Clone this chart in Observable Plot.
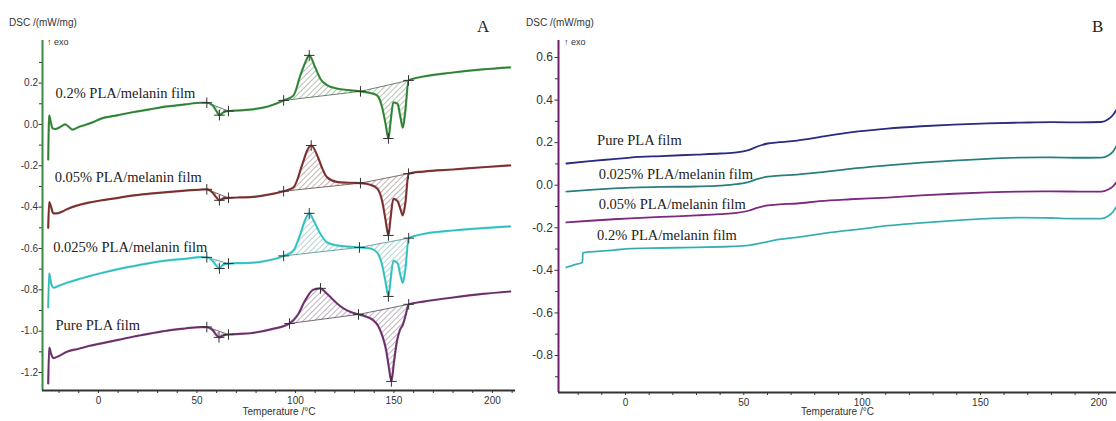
<!DOCTYPE html>
<html><head><meta charset="utf-8">
<script src="https://cdn.jsdelivr.net/npm/d3@7"></script>
<script src="https://cdn.jsdelivr.net/npm/@observablehq/plot@0.6"></script>
<style>
body{margin:0;background:#fff;}
#wrap{position:relative;width:1116px;height:421px;overflow:hidden;background:#fff;font-family:"Liberation Sans",Arial,sans-serif;}
#wrap svg{position:absolute;top:0;}
.lab{position:absolute;color:#333;white-space:nowrap;line-height:1;}
.pl{position:absolute;color:#222;font-family:"Liberation Serif","Times New Roman",serif;font-size:17px;line-height:1;}
</style></head><body>
<div id="wrap">
  <div class="lab" style="left:9px;top:18px;font-size:10px">DSC /(mW/mg)</div>
  <div class="lab" style="left:47px;top:38px;font-size:9px">↑ exo</div>
  <div class="pl" style="left:477px;top:18px">A</div>
  <div class="lab" style="left:526px;top:18px;font-size:10px">DSC /(mW/mg)</div>
  <div class="lab" style="left:564px;top:38px;font-size:9px">↑ exo</div>
  <div class="pl" style="left:1092px;top:18px">B</div>
</div>
<script>
// ---------- axis ticks ----------
const xTicksMajor = [0, 50, 100, 150, 200];
const xTicksMinorA = [-20,-10,10,20,30,40,60,70,80,90,110,120,130,140,160,170,180,190,210];
const xTicksMinorB = [-20,-10,10,20,30,40,60,70,80,90,110,120,130,140,160,170,180,190];
const yTicksMajorA = [0.2, 0, -0.2, -0.4, -0.6, -0.8, -1.0, -1.2];
const yTicksMinorA = [0.3, 0.1, -0.1, -0.3, -0.5, -0.7, -0.9, -1.1];
const yTicksMajorB = [0.6, 0.4, 0.2, 0, -0.2, -0.4, -0.6, -0.8];
const yTicksMinorB = [0.5, 0.3, 0.1, -0.1, -0.3, -0.5, -0.7, -0.9];
const xLabel = "Temperature /°C";

// ---------- Panel A data ----------
const namesA = ["0.2% PLA/melanin film", "0.05% PLA/melanin film", "0.025% PLA/melanin film", "Pure PLA film"];

const tA_02 = [-25.5,-25,-24.4,-23.2,-21.8,-19,-16.8,-15,-13.2,-10,-7.6,-3,1,10,18,26,35,44,52,55,58,60,61.4,63,66,72,77,86,94,99,102.5,105,107,110,112.7,116,121,127,133,138,141.5,144,145.7,147.2,148.2,149.7,151.8,153.3,154.5,155.8,157.4,165,179,195,209];
const vA_02 = [-0.17,0.044,0.02,-0.02,-0.022,-0.01,0.0,-0.012,-0.025,-0.012,-0.005,0.01,0.027,0.045,0.06,0.073,0.087,0.097,0.105,0.105,0.092,0.063,0.045,0.056,0.065,0.068,0.072,0.087,0.116,0.14,0.237,0.30,0.334,0.276,0.22,0.19,0.174,0.166,0.16,0.152,0.14,0.083,0.005,-0.068,0.005,0.107,0.10,0.035,-0.016,0.068,0.213,0.232,0.25,0.266,0.276];
const mA_02 = [55, 61.4, 66, 94, 107, 133, 147.2, 157.4];

const tA_005 = [-25.5,-25,-24,-23,-21,-18,-16,-10,-5,1,10,18,26,35,44,52,55,58,60,61.4,63,66,72,77,86,94,99,103.6,106,108,111.5,113.5,116,121,127,133,138,141.5,144,145.7,147.2,148.2,149.7,151.8,153.3,154.5,155.8,157.4,165,180,195,209];
const vA_005 = [-0.50,-0.376,-0.40,-0.43,-0.43,-0.42,-0.41,-0.39,-0.378,-0.368,-0.355,-0.343,-0.335,-0.327,-0.32,-0.315,-0.314,-0.33,-0.355,-0.367,-0.36,-0.355,-0.353,-0.352,-0.34,-0.323,-0.305,-0.19,-0.125,-0.102,-0.16,-0.21,-0.255,-0.278,-0.282,-0.284,-0.292,-0.31,-0.37,-0.46,-0.537,-0.46,-0.36,-0.37,-0.41,-0.44,-0.38,-0.238,-0.228,-0.218,-0.207,-0.198];
const mA_005 = [55, 61.4, 66, 94, 108, 133, 147.2, 157.4];

const tA_0025 = [-25.5,-25,-24,-22.7,-20,-16,-10,-5,1,10,18,26,35,44,52,55,58,60,61.4,63,66,72,77,86,94,99,102.5,105,107,109.5,112.7,116,121,127,132.5,138,141.5,144,145.7,147.2,148.2,149.7,151.8,153.3,154.5,155.8,157.5,165,180,195,209];
const vA_0025 = [-0.885,-0.72,-0.77,-0.79,-0.78,-0.766,-0.748,-0.735,-0.72,-0.70,-0.685,-0.671,-0.658,-0.65,-0.642,-0.643,-0.66,-0.685,-0.697,-0.68,-0.673,-0.671,-0.67,-0.658,-0.636,-0.61,-0.53,-0.46,-0.43,-0.47,-0.53,-0.57,-0.585,-0.591,-0.595,-0.6,-0.62,-0.68,-0.76,-0.832,-0.76,-0.66,-0.67,-0.73,-0.766,-0.70,-0.55,-0.53,-0.513,-0.502,-0.493];
const mA_0025 = [55, 61.4, 66, 94, 107, 132.5, 147.2, 157.5];

const tA_pure = [-25.5,-25,-24,-23,-20,-16,-10,-5,1,10,18,26,35,44,52,55,58,60,61.2,63,66,72,77,88,97,101,105,109,112.7,115,118,121,124.4,128,132,136,139.6,142,144,146,147.5,148.7,150,151.5,153,154.5,156,157.5,165,180,195,209];
const vA_pure = [-1.253,-1.08,-1.11,-1.13,-1.12,-1.10,-1.085,-1.072,-1.06,-1.042,-1.026,-1.012,-0.997,-0.987,-0.98,-0.98,-0.995,-1.02,-1.03,-1.022,-1.016,-1.013,-1.01,-0.99,-0.963,-0.924,-0.85,-0.80,-0.793,-0.81,-0.837,-0.865,-0.89,-0.907,-0.919,-0.93,-0.948,-0.975,-1.02,-1.09,-1.18,-1.243,-1.15,-1.05,-0.995,-0.97,-0.92,-0.87,-0.857,-0.837,-0.82,-0.808];
const mA_pure = [55, 61.2, 66, 97, 112.7, 132, 148.7, 157.5];

const labelTA = [-21.8, -22.2, -23, -21.8];
const labelVA = [0.15, -0.256, -0.595, -0.972];

// ---------- Panel B data ----------
const namesB = ["Pure PLA film", "0.025% PLA/melanin film", "0.05% PLA/melanin film", "0.2% PLA/melanin film"];
const tB = [-25,-15,-5,2,15,30,40,47,52,56,60,65,72.5,82,95,110.7,125,138.7,153,167,180,192,201,204,206,207.5];
const vB_pure = [0.102,0.113,0.123,0.13,0.137,0.144,0.149,0.154,0.165,0.183,0.196,0.202,0.21,0.226,0.248,0.266,0.277,0.285,0.291,0.294,0.296,0.295,0.297,0.31,0.33,0.355];
const vB_0025 = [-0.03,-0.022,-0.015,-0.011,-0.008,-0.006,-0.002,0.005,0.015,0.03,0.04,0.045,0.05,0.06,0.077,0.093,0.106,0.116,0.124,0.13,0.131,0.129,0.13,0.14,0.158,0.185];
const vB_005 = [-0.175,-0.167,-0.16,-0.156,-0.149,-0.142,-0.136,-0.13,-0.12,-0.105,-0.095,-0.09,-0.086,-0.075,-0.066,-0.058,-0.048,-0.04,-0.034,-0.03,-0.029,-0.03,-0.03,-0.02,-0.005,0.015];
const tB_02 = [-25,-21,-18.2,-18,-15,-12,-5,2,15,30,44,52,58,65,72.5,86.6,100,110.7,125,138.7,153,167,180,190,201,204,206,207.5];
const vB_02 = [-0.386,-0.372,-0.363,-0.318,-0.313,-0.311,-0.305,-0.298,-0.295,-0.292,-0.288,-0.283,-0.27,-0.255,-0.245,-0.222,-0.205,-0.19,-0.177,-0.166,-0.157,-0.152,-0.154,-0.157,-0.157,-0.145,-0.125,-0.1];
const labelTB = [-12, -11.3, -11.3, -12];
const labelVB = [0.21, 0.053, -0.091, -0.236];

// ---------- build ----------
const rows = (T, V) => T.map((t, i) => ({T: t, v: V[i]}));
const colorsA = ["#3f9a45", "#8e3c3c", "#45d3d3", "#7f3f80"];
const darkA = ["#1f4a22", "#4a1c1c", "#2a8a8a", "#3a1a3a"];
const hatchA = ["#3f5e40", "#5e3a3a", "#3f8a8a", "#503c50"];
const seriesA = [
  {rows: rows(tA_02, vA_02), m: mA_02},
  {rows: rows(tA_005, vA_005), m: mA_005},
  {rows: rows(tA_0025, vA_0025), m: mA_0025},
  {rows: rows(tA_pure, vA_pure), m: mA_pure}
];
const colorsB = ["#2e2e8e", "#2f8f8c", "#8a2d8c", "#40c6c8"];
const seriesB = [rows(tB, vB_pure), rows(tB, vB_0025), rows(tB, vB_005), rows(tB_02, vB_02)];

const at = (r, t) => r.find(d => d.T === t);
const fmt = d => d.toFixed(1);
const curve = "monotone-x";

function axes(xMinor, yMajor, yMinor, yFont, yPad) {
  return [
    Plot.axisX(xTicksMajor, {label: null, tickSize: 3, tickPadding: 3, fontSize: 10, stroke: "#333", fill: "#333"}),
    Plot.axisX(xMinor, {label: null, tickSize: 3, tickFormat: () => "", stroke: "#333"}),
    Plot.axisY(yMajor, {label: null, tickSize: 3.5, tickPadding: yPad, fontSize: yFont, tickFormat: fmt, stroke: "#333", fill: "#333"}),
    Plot.axisY(yMinor, {label: null, tickSize: 3, tickFormat: () => "", stroke: "#333"})
  ];
}

// Panel A
const xDomA = [-28.4, 211.7], yDomA = [-1.287, 0.406];
const marksA = [];
seriesA.forEach((s, i) => {
  const m = s.m;
  const cr = s.rows.filter(d => d.T >= m[3] && d.T <= m[5]);
  const ml = s.rows.filter(d => d.T >= m[5] && d.T <= m[7]);
  const gt = s.rows.filter(d => d.T >= m[0] && d.T <= m[2]);
  marksA.push(Plot.line(cr, {x: "T", y: "v", curve, stroke: "none", fill: `url(#hatchA${i})`}));
  marksA.push(Plot.line(ml, {x: "T", y: "v", curve, stroke: "none", fill: `url(#hatchA${i})`}));
  marksA.push(Plot.line(gt, {x: "T", y: "v", curve, stroke: "none", fill: `url(#hatchA${i})`}));
  marksA.push(Plot.line([at(s.rows, m[3]), at(s.rows, m[5]), at(s.rows, m[7])], {x: "T", y: "v", stroke: hatchA[i], strokeWidth: 0.9, strokeOpacity: 0.85}));
  marksA.push(Plot.line([at(s.rows, m[0]), at(s.rows, m[2])], {x: "T", y: "v", stroke: hatchA[i], strokeWidth: 0.9, strokeOpacity: 0.85}));
  marksA.push(Plot.line(s.rows, {x: "T", y: "v", curve, stroke: colorsA[i], strokeWidth: 2.2}));
  marksA.push(Plot.line(s.rows, {x: "T", y: "v", curve, stroke: darkA[i], strokeWidth: 0.8, strokeOpacity: 0.55}));
  marksA.push(Plot.dot(m.map(t => at(s.rows, t)), {x: "T", y: "v", symbol: "plus", r: 3.5, stroke: "#333", strokeWidth: 1}));
});
const labelsA = namesA.map((n, i) => ({name: n, T: labelTA[i], v: labelVA[i]}));

const plotA = Plot.plot({
  width: 520, height: 421,
  marginLeft: 42, marginRight: 5, marginTop: 40, marginBottom: 31,
  x: {domain: xDomA, label: null}, y: {domain: yDomA, label: null},
  style: {background: "transparent", fontFamily: "Liberation Sans, Arial, sans-serif", overflow: "visible"},
  marks: [
    ...axes(xTicksMinorA, yTicksMajorA, yTicksMinorA, 10, 1),
    ...marksA,
    Plot.ruleX([xDomA[0]], {stroke: "#3a8a40", strokeWidth: 2}),
    Plot.ruleY([yDomA[0]], {stroke: "#333", strokeWidth: 2}),
    Plot.text(labelsA, {x: "T", y: "v", text: "name", textAnchor: "start", fontFamily: "Liberation Serif, Times New Roman, serif", fontSize: 14.5, fill: "#222"}),
    Plot.text([xLabel], {frameAnchor: "bottom", dy: 24, fontSize: 10, fill: "#333"})
  ]
});

// Panel B
const xDomB = [-28.3, 207.5], yDomB = [-0.974, 0.68];
const marksB = [];
seriesB.forEach((r, i) => {
  marksB.push(Plot.line(r, {x: "T", y: "v", curve, stroke: colorsB[i], strokeWidth: 1.8}));
  marksB.push(Plot.line(r, {x: "T", y: "v", curve, stroke: "#222", strokeWidth: 0.6, strokeOpacity: 0.35}));
});
const labelsB = namesB.map((n, i) => ({name: n, T: labelTB[i], v: labelVB[i]}));

const plotB = Plot.plot({
  width: 596, height: 421,
  marginLeft: 38, marginRight: 0, marginTop: 40, marginBottom: 29,
  x: {domain: xDomB, label: null}, y: {domain: yDomB, label: null},
  style: {background: "transparent", fontFamily: "Liberation Sans, Arial, sans-serif", overflow: "visible"},
  marks: [
    ...axes(xTicksMinorB, yTicksMajorB, yTicksMinorB, 12, 2),
    ...marksB,
    Plot.ruleX([xDomB[0]], {stroke: "#6e2070", strokeWidth: 2}),
    Plot.ruleY([yDomB[0]], {stroke: "#333", strokeWidth: 2}),
    Plot.text(labelsB, {x: "T", y: "v", text: "name", textAnchor: "start", fontFamily: "Liberation Serif, Times New Roman, serif", fontSize: 14.5, fill: "#222"}),
    Plot.text([xLabel], {frameAnchor: "bottom", dy: 22, fontSize: 10, fill: "#333"})
  ]
});

// hatch patterns
const defs = hatchA.map((c, i) =>
  `<pattern id="hatchA${i}" patternUnits="userSpaceOnUse" width="4" height="4" patternTransform="rotate(45)"><line x1="0" y1="0" x2="0" y2="4" stroke="${c}" stroke-width="0.9" stroke-opacity="0.85"/></pattern>`).join("");
plotA.insertAdjacentHTML("afterbegin", `<defs>${defs}</defs>`);

plotA.style.left = "0px";
plotB.style.left = "520px";
const wrap = document.getElementById("wrap");
wrap.appendChild(plotA);
wrap.appendChild(plotB);
</script>
</body></html>
